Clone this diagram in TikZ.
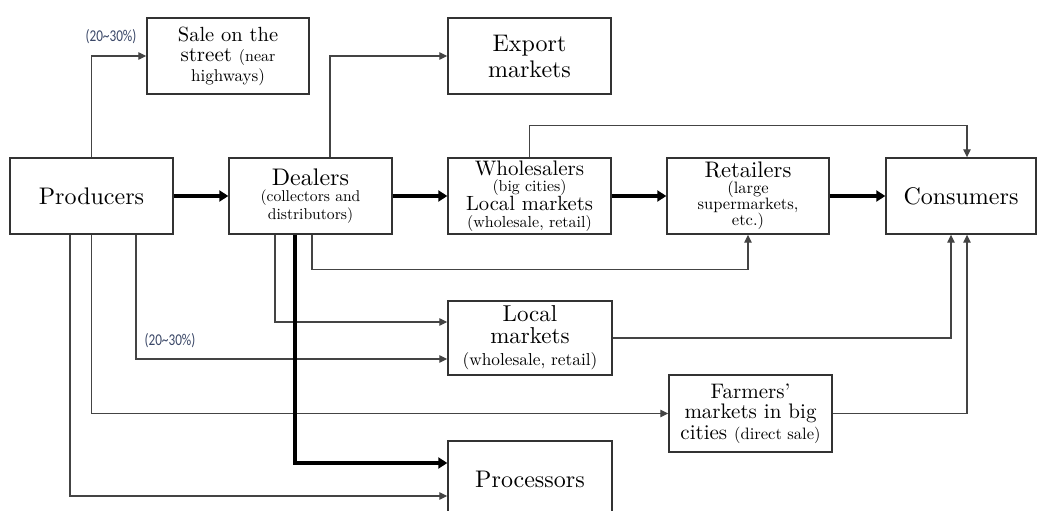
\documentclass[tikz,border=0pt]{standalone}
\usepackage{fontspec}
\setmainfont{lmroman10-regular.otf}
\newfontfamily\lblfont{Carlito}
\usepackage{graphicx}
\usetikzlibrary{arrows.meta}
\definecolor{boxc}{HTML}{333333}
\definecolor{linec}{HTML}{444444}
\definecolor{lblc}{HTML}{3B4868}
\newcommand\fsz[1]{\fontsize{#1}{#1}\selectfont}
\newcommand\bxt[2]{\vbox{\baselineskip=#1\lineskiplimit=-\maxdimen\lineskip=0pt\halign{\hfil##\hfil\cr#2\crcr}}}
\newcommand\gap[1]{\noalign{\kern#1}}
\tikzset{
  box/.style={draw=boxc, line width=1.4pt, inner sep=0pt, align=center},
  thinarr/.style={draw=linec, line width=1.2pt, -{Triangle[length=8pt,width=7.5pt]}},
  thickarr/.style={draw=black, line width=3.4pt, -{Triangle[length=9pt,width=11pt]}},
  lbl/.style={text=lblc, inner sep=0pt, font=\lblfont\fontsize{16.5}{16.5}\selectfont}
}
\begin{document}
\begin{tikzpicture}[x=1pt,y=-1pt]
\clip (0,0) rectangle (1037,511);
\fill[white] (0,0) rectangle (1037,511);
% boxes
\node[box, minimum width=162pt, minimum height=76pt] (sale) at (228,56)
  {\bxt{20pt}{{\fsz{20.5}Sale on the}\cr{\fsz{21}street {\fsz{16}(near}}\cr{\fsz{17}highways)}}};
\node[box, minimum width=163pt, minimum height=76pt] (prod) at (91.5,196)
  {\fsz{24}Producers};
\node[box, minimum width=163pt, minimum height=76pt] (deal) at (310.5,196)
  {\bxt{16pt}{{\fsz{24}Dealers}\cr{\fsz{15.6}(collectors and}\cr\gap{2pt}{\fsz{15.6}distributors)}}};
\node[box, minimum width=163pt, minimum height=76pt] (exp) at (529.5,56)
  {\bxt{26pt}{{\fsz{24}Export}\cr{\fsz{24}markets}}};
\node[box, minimum width=163pt, minimum height=76pt] (whole) at (529.5,196)
  {\bxt{16.5pt}{{\fsz{21}Wholesalers}\cr{\fsz{15.8}(big cities)}\cr\gap{2.5pt}{\fsz{20.6}Local markets}\cr{\fsz{16}(wholesale, retail)}}};
\node[box, minimum width=162pt, minimum height=76pt] (ret) at (748,196)
  {\bxt{16pt}{{\fsz{22.5}Retailers}\cr{\fsz{16.5}(large}\cr{\fsz{16.5}supermarkets,}\cr{\fsz{16.5}etc.)}}};
\node[box, minimum width=150pt, minimum height=76pt] (cons) at (961,196)
  {\fsz{24}Consumers};
\node[box, minimum width=164pt, minimum height=74pt] (local) at (530,338)
  {\bxt{22pt}{{\fsz{23}Local}\cr{\fsz{23}markets}\cr{\fsz{17.3}(wholesale, retail)}}};
\node[box, minimum width=163pt, minimum height=77pt] (farm) at (750.5,413.5)
  {\bxt{20.5pt}{{\fsz{21}Farmers’}\cr{\fsz{21}markets in big}\cr{\fsz{21}cities {\fsz{16.5}(direct sale)}}}};
\node[box, minimum width=164pt, minimum height=76pt] (proc) at (530,479)
  {\fsz{24}Processors};
% labels
\node[lbl] (l1) at (111,37) {\scalebox{0.8}[1]{(20\textasciitilde30\%)}};
\node[lbl] (l2) at (170,341) {\scalebox{0.8}[1]{(20\textasciitilde30\%)}};
% thin connectors
\draw[thinarr] (prod.north) |- (sale.west);
\draw[thinarr] ([xshift=19.5pt]deal.north) |- (exp.west);
\draw[thinarr] (whole.north) -- ++(0,-32) -| ([xshift=6pt]cons.north);
\draw[thinarr] ([xshift=1.5pt]deal.south) -- ++(0,35) -| (ret.south);
\draw[thinarr] ([xshift=-35.5pt]deal.south) |- ([yshift=16pt]local.west);
\draw[thinarr] ([xshift=44.5pt]prod.south) |- ([yshift=-21pt]local.west);
\draw[thinarr] (prod.south) |- (farm.west);
\draw[thinarr] ([xshift=-21.5pt]prod.south) |- ([yshift=-17pt]proc.west);
\draw[thinarr] (local.east) -| ([xshift=-10pt]cons.south);
\draw[thinarr] (farm.east) -| ([xshift=6pt]cons.south);
% thick connectors
\draw[thickarr] (prod.east) -- (deal.west);
\draw[thickarr] (deal.east) -- (whole.west);
\draw[thickarr] (whole.east) -- (ret.west);
\draw[thickarr] (ret.east) -- (cons.west);
\draw[thickarr] ([xshift=-15.5pt]deal.south) |- ([yshift=16pt]proc.west);
\end{tikzpicture}
\end{document}
